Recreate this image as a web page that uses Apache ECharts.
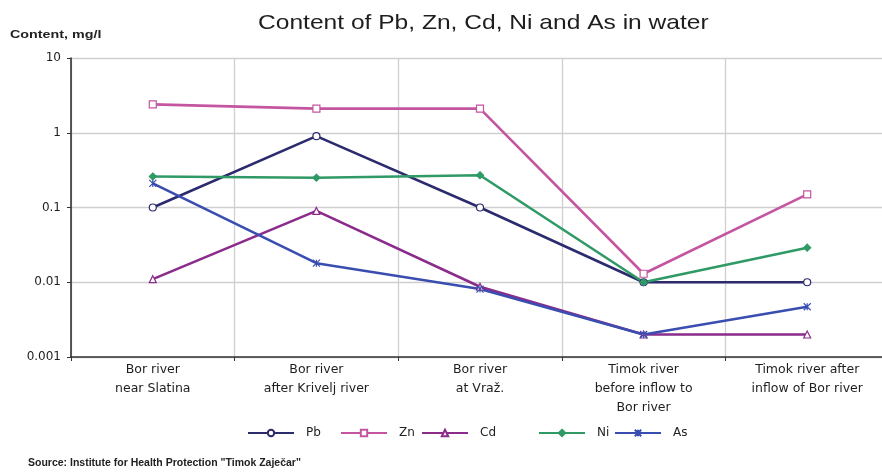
<!DOCTYPE html>
<html>
<head>
<meta charset="utf-8">
<script src="https://cdn.jsdelivr.net/npm/echarts@6/dist/echarts.min.js"></script>
<style>
  html, body { margin: 0; padding: 0; background: #fff; overflow: hidden; }
  #chart { width: 889px; height: 472px; }
</style>
</head>
<body>
<div id="chart"></div>
<script>
// Sampling sites along the rivers
const sites = [
  'Bor river\nnear Slatina',
  'Bor river\nafter Krivelj river',
  'Bor river\nat Vraž.',
  'Timok river\nbefore inflow to\nBor river',
  'Timok river after\ninflow of Bor river'
];

// Measured concentrations, mg/l
const pb = [0.1, 0.9, 0.1, 0.01, 0.01];
const zn = [2.4, 2.1, 2.1, 0.013, 0.15];
const cd = [0.011, 0.09, 0.0087, 0.002, 0.002];
const ni = [0.26, 0.25, 0.27, 0.01, 0.029];
const as = [0.21, 0.018, 0.0081, 0.002, 0.0047];

// Log-axis tick labels
const yTicks = { 0.001: '0.001', 0.01: '0.01', 0.1: '0.1', 1: '1', 10: '10' };

const sans = 'Liberation Sans, Arial, sans-serif';
const wide = 'DejaVu Sans, Verdana, sans-serif';
const cross = 'path://M0,0L10,10M10,0L0,10M5,0L5,10';

function line(name, data, color, symbol, filled) {
  return {
    name: name,
    type: 'line',
    data: data,
    symbol: symbol,
    symbolSize: 7,
    lineStyle: { color: color, width: 2.6 },
    itemStyle: { color: filled ? color : '#fff', borderColor: color, borderWidth: 1.2 },
    emphasis: { disabled: true },
    z: 3
  };
}

function legendItem(name, left) {
  return {
    data: [name], left: left, top: 422,
    itemWidth: 46, itemHeight: 8, itemGap: 0,
    textStyle: { fontFamily: wide, fontSize: 12, color: '#222', padding: [0, 0, 0, 7] }
  };
}

const chart = echarts.init(document.getElementById('chart'), null, { renderer: 'canvas' });
chart.setOption({
  animation: false,
  backgroundColor: '#fff',
  textStyle: { fontFamily: sans },
  graphic: [
    { type: 'text', x: 258, y: 23, scaleX: 1.17,
      style: { text: 'Content of Pb, Zn, Cd, Ni and As in water', font: '21px ' + sans,
               fill: '#1e1e1e', verticalAlign: 'middle' } },
    { type: 'text', x: 10, y: 35, scaleX: 1.3,
      style: { text: 'Content, mg/l', font: 'bold 11px ' + sans, fill: '#222', verticalAlign: 'middle' } },
    { type: 'text', x: 28, y: 463, scaleX: 1.05,
      style: { text: 'Source: Institute for Health Protection "Timok Zaječar"', font: 'bold 10px ' + sans,
               fill: '#222', verticalAlign: 'middle' } }
  ],
  legend: [
    legendItem('Pb', 242),
    legendItem('Zn', 335),
    legendItem('Cd', 416),
    legendItem('Ni', 533),
    legendItem('As', 609)
  ],
  grid: { left: 71, right: 0, top: 58, bottom: 115 },
  xAxis: {
    type: 'category',
    data: sites,
    boundaryGap: true,
    axisLine: { lineStyle: { color: '#333', width: 1.6 } },
    axisTick: { show: true, length: 4, lineStyle: { color: '#333' } },
    axisLabel: { fontFamily: wide, fontSize: 12.5, color: '#1e1e1e', lineHeight: 19, margin: 3 },
    splitLine: { show: true, lineStyle: { color: '#cfcfcf', width: 1.3 } }
  },
  yAxis: {
    type: 'log',
    logBase: 10,
    min: 0.001, max: 10,
    axisLine: { show: true, lineStyle: { color: '#333', width: 1.6 } },
    axisTick: { show: true, length: 4, lineStyle: { color: '#333' } },
    axisLabel: {
      fontFamily: wide, fontSize: 12, color: '#1e1e1e', margin: 10,
      formatter: v => yTicks[Number(v.toPrecision(3))] || ''
    },
    splitLine: { show: true, lineStyle: { color: '#cfcfcf', width: 1.3 } }
  },
  series: [
    line('Pb', pb, '#2c2b6e', 'circle', false),
    line('Zn', zn, '#c455a0', 'rect', false),
    line('Cd', cd, '#8b2c8c', 'triangle', false),
    line('Ni', ni, '#2f9a66', 'diamond', true),
    line('As', as, '#3a4db0', cross, true)
  ]
});
</script>
</body>
</html>
